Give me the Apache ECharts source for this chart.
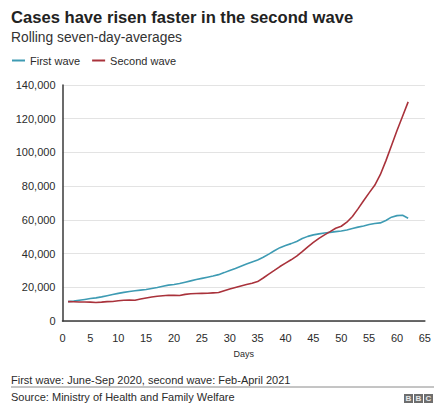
<!DOCTYPE html>
<html>
<head>
<meta charset="utf-8">
<script src="https://cdn.jsdelivr.net/npm/echarts@6/dist/echarts.min.js"></script>
<style>
  html, body { margin: 0; padding: 0; background: #fff; }
  #chart { width: 434px; height: 403px; }
</style>
</head>
<body>
<div id="chart"></div>
<script>
// Days since the start of each wave
const days = [
  1, 2, 3, 4, 5, 6, 7, 8, 9, 10, 11, 12, 13, 14, 15, 16, 17, 18, 19, 20,
  21, 22, 23, 24, 25, 26, 27, 28, 29, 30, 31, 32, 33, 34, 35, 36, 37, 38, 39, 40,
  41, 42, 43, 44, 45, 46, 47, 48, 49, 50, 51, 52, 53, 54, 55, 56, 57, 58, 59, 60,
  61, 62
];

// Rolling seven-day average of new cases, first wave (June-Sep 2020)
const firstWave = [
  11500, 11800, 12300, 12800, 13300, 13700, 14300, 15000, 15700, 16400,
  17000, 17500, 17900, 18300, 18700, 19300, 19900, 20600, 21300, 21700,
  22200, 23000, 23800, 24600, 25300, 26000, 26700, 27500, 28700, 30000,
  31200, 32500, 33800, 35000, 36200, 37800, 39700, 41700, 43500, 44800,
  45900, 47200, 48900, 50200, 51100, 51700, 52200, 52600, 53000, 53400,
  54000, 54900, 55700, 56400, 57200, 57800, 58200, 59600, 61600, 62500,
  62700, 61000
];

// Rolling seven-day average of new cases, second wave (Feb-April 2021)
const secondWave = [
  11500, 11400, 11300, 11300, 11200, 11000, 11200, 11500, 11600, 12000,
  12300, 12400, 12300, 13000, 13600, 14200, 14700, 15000, 15300, 15200,
  15100, 15800, 16200, 16300, 16400, 16500, 16700, 16900, 18000, 19000,
  19900, 20800, 21600, 22400, 23400, 25500, 27800, 30000, 32300, 34300,
  36300, 38500, 41200, 44000, 46600, 49000, 51100, 53000, 55000, 56200,
  58600, 62000, 66500, 71300, 76000, 80500, 86800, 95000, 104000, 113000,
  121500, 130000
];

const seriesNames = ['First wave', 'Second wave'];
const seriesColors = ['#3e9bb3', '#a9323b'];

const FONT = '"Liberation Sans", Arial, Helvetica, sans-serif';
const INK = '#2b2b2b';

const chart = echarts.init(document.getElementById('chart'), null, { renderer: 'svg' });

function pairs(values) {
  return values.map((v, i) => [days[i], v]);
}

const bbcLetters = ['B', 'B', 'C'];

chart.setOption({
  animation: false,
  backgroundColor: '#fff',
  textStyle: { fontFamily: FONT },
  grid: { left: 62.5, right: 6, top: 85, bottom: 82, containLabel: false },
  legend: {
    left: 7,
    top: 50,
    itemWidth: 13,
    itemHeight: 2,
    itemGap: 12,
    icon: 'rect',
    data: seriesNames,
    textStyle: { fontFamily: FONT, fontSize: 11, color: INK }
  },
  xAxis: {
    type: 'value',
    min: 0,
    max: 65,
    interval: 5,
    name: 'Days',
    nameLocation: 'middle',
    nameGap: 28,
    nameTextStyle: { fontFamily: FONT, fontSize: 9, color: INK },
    axisLine: { show: true, lineStyle: { color: '#3a3a3a', width: 1.5 } },
    axisTick: { show: false },
    splitLine: { show: false },
    axisLabel: { fontFamily: FONT, fontSize: 11, color: INK, margin: 11, showMaxLabel: true }
  },
  yAxis: {
    type: 'value',
    min: 0,
    max: 140000,
    interval: 20000,
    axisLine: { show: true, lineStyle: { color: '#3a3a3a', width: 1.5 } },
    axisTick: { show: false },
    splitLine: { show: true, lineStyle: { color: '#e3e3e3', width: 1 } },
    axisLabel: {
      fontFamily: FONT,
      fontSize: 11,
      color: INK,
      margin: 7,
      formatter: v => v.toLocaleString('en-US')
    }
  },
  series: [
    {
      name: seriesNames[0],
      type: 'line',
      data: pairs(firstWave),
      showSymbol: false,
      color: seriesColors[0],
      lineStyle: { width: 1.6 },
      z: 3
    },
    {
      name: seriesNames[1],
      type: 'line',
      data: pairs(secondWave),
      showSymbol: false,
      color: seriesColors[1],
      lineStyle: { width: 1.6 },
      z: 4
    }
  ],
  graphic: [
    {
      type: 'text', left: 11, top: 9,
      style: { text: 'Cases have risen faster in the second wave', fontFamily: FONT,
               fontSize: 16.6, fontWeight: 'bold', fill: '#222' }
    },
    {
      type: 'text', left: 11, top: 30,
      style: { text: 'Rolling seven-day-averages', fontFamily: FONT,
               fontSize: 13.8, fill: '#333' }
    },
    {
      type: 'text', left: 11, top: 374,
      style: { text: 'First wave: June-Sep 2020, second wave: Feb-April 2021', fontFamily: FONT,
               fontSize: 11, fill: INK }
    },
    {
      type: 'line', shape: { x1: 11, y1: 387, x2: 434, y2: 387 },
      style: { stroke: '#8a8a8a', lineWidth: 1 }
    },
    {
      type: 'text', left: 11, top: 391,
      style: { text: 'Source: Ministry of Health and Family Welfare', fontFamily: FONT,
               fontSize: 11, fill: INK }
    },
    {
      type: 'group', left: 404, top: 394,
      children: bbcLetters.flatMap((ch, i) => [
        { type: 'rect', shape: { x: i * 10, y: 0, width: 9, height: 9 }, style: { fill: '#6e6e6e' } },
        { type: 'text', x: i * 10 + 4.5, y: 4.8,
          style: { text: ch, fontFamily: FONT, fontSize: 8, fontWeight: 'bold', fill: '#e8e8e8',
                   align: 'center', verticalAlign: 'middle' } }
      ])
    }
  ]
});
</script>
</body>
</html>
